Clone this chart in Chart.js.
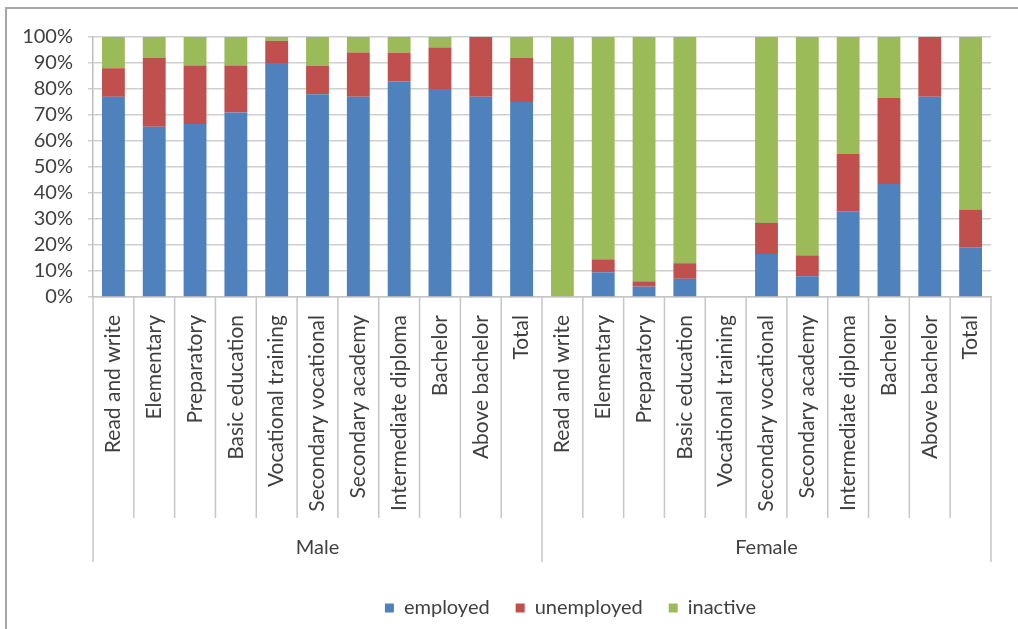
<!DOCTYPE html>
<html>
<head>
<meta charset="utf-8">
<script src="https://cdn.jsdelivr.net/npm/chart.js@4"></script>
<style>
  html, body { margin: 0; padding: 0; background: #fff; }
  #wrap { position: relative; width: 1018px; height: 629px; }
  #frame {
    position: absolute; left: 5px; top: 7px; right: 0; bottom: 0;
    border-top: 2px solid #a6a6a6; border-left: 2px solid #a6a6a6;
    pointer-events: none;
  }
</style>
</head>
<body>
<div id="wrap">
  <canvas id="stackChart"></canvas>
  <div id="frame"></div>
</div>
<script>
const levels = ['Read and write', 'Elementary', 'Preparatory', 'Basic education', 'Vocational training',
    'Secondary vocational', 'Secondary academy', 'Intermediate diploma', 'Bachelor', 'Above bachelor', 'Total'];
const groups = ['Male', 'Female'];
const labels = groups.flatMap(() => levels);

// percent shares, male block then female block
const employed   = [77, 65.5, 66.5, 71, 90, 78, 77, 83, 80, 77, 75,
                    0, 9.5, 4, 7, 0, 16.5, 8, 33, 43.5, 77, 19];
const unemployed = [11, 26.5, 22.5, 18, 8.5, 11, 17, 11, 16, 23, 17,
                    0, 5, 2, 6, 0, 12, 8, 22, 33, 23, 14.5];
const inactive   = [12, 8, 11, 11, 1.5, 11, 6, 6, 4, 0, 8,
                    100, 85.5, 94, 87, 0, 71.5, 84, 45, 23.5, 0, 66.5];

const yTicks = [0, 10, 20, 30, 40, 50, 60, 70, 80, 90, 100];

const textColor = '#404040';
const fontFamily = 'Lato, "Open Sans", sans-serif';

// draws the group level of the category axis (separators + Male/Female)
const groupAxis = {
    id: 'groupAxis',
    afterLayout(chart) {
        // legend sits right of centre in the original
        chart.legend.left += 70;
        chart.legend.right += 70;
    },
    afterDraw(chart) {
        const xs = chart.scales.x;
        const ctx = chart.ctx;
        const base = chart.chartArea.bottom;
        ctx.save();
        ctx.strokeStyle = '#c6c6c6';
        ctx.lineWidth = 1.5;
        for (let i = 0; i <= labels.length; i++) {
            const px = xs.getPixelForValue(i - 0.5);
            const edge = i % levels.length === 0;
            ctx.beginPath();
            ctx.moveTo(px, base);
            ctx.lineTo(px, base + (edge ? 265 : 221));
            ctx.stroke();
        }
        ctx.fillStyle = textColor;
        ctx.font = '20px ' + fontFamily;
        ctx.textAlign = 'center';
        ctx.textBaseline = 'middle';
        groups.forEach(function (g, gi) {
            const a = xs.getPixelForValue(gi * levels.length - 0.5);
            const b = xs.getPixelForValue((gi + 1) * levels.length - 0.5);
            ctx.fillText(g, (a + b) / 2, base + 251);
        });
        ctx.restore();
    }
};

const ctx = document.getElementById('stackChart').getContext('2d');
new Chart(ctx, {
    type: 'bar',
    data: {
        labels: labels,
        datasets: [
            {label: 'employed', data: employed, backgroundColor: '#4f81bd'},
            {label: 'unemployed', data: unemployed, backgroundColor: '#c0504d'},
            {label: 'inactive', data: inactive, backgroundColor: '#9bbb59'}
        ]
    },
    options: {
        responsive: true,
        maintainAspectRatio: false,
        animation: false,
        datasets: {bar: {categoryPercentage: 1, barPercentage: 0.56}},
        layout: {padding: {top: 37, left: 10, right: 27, bottom: 1}},
        scales: {
            x: {
                stacked: true,
                grid: {display: false},
                border: {display: true, color: '#c6c6c6', width: 1.5},
                ticks: {
                    autoSkip: false, minRotation: 90, maxRotation: 90, padding: 10,
                    color: textColor, font: {family: fontFamily, size: 21}
                },
                afterFit(scale) { scale.height = 275; }
            },
            y: {
                stacked: true,
                min: 0, max: 100,
                afterBuildTicks(scale) { scale.ticks = yTicks.map(v => ({value: v})); },
                grid: {color: '#cfcfcf', lineWidth: 1.5, tickLength: 5},
                border: {display: true, color: '#bdbdbd', width: 1.5},
                ticks: {
                    autoSkip: false, padding: 15, color: textColor,
                    font: {family: fontFamily, size: 20},
                    callback: v => v + '%'
                },
                afterFit(scale) { scale.width = 83; }
            }
        },
        plugins: {
            tooltip: {enabled: false},
            legend: {
                position: 'bottom',
                labels: {
                    boxWidth: 9, boxHeight: 9, padding: 26,
                    color: textColor, font: {family: fontFamily, size: 20}
                }
            }
        }
    },
    plugins: [groupAxis]
});
</script>
</body>
</html>
